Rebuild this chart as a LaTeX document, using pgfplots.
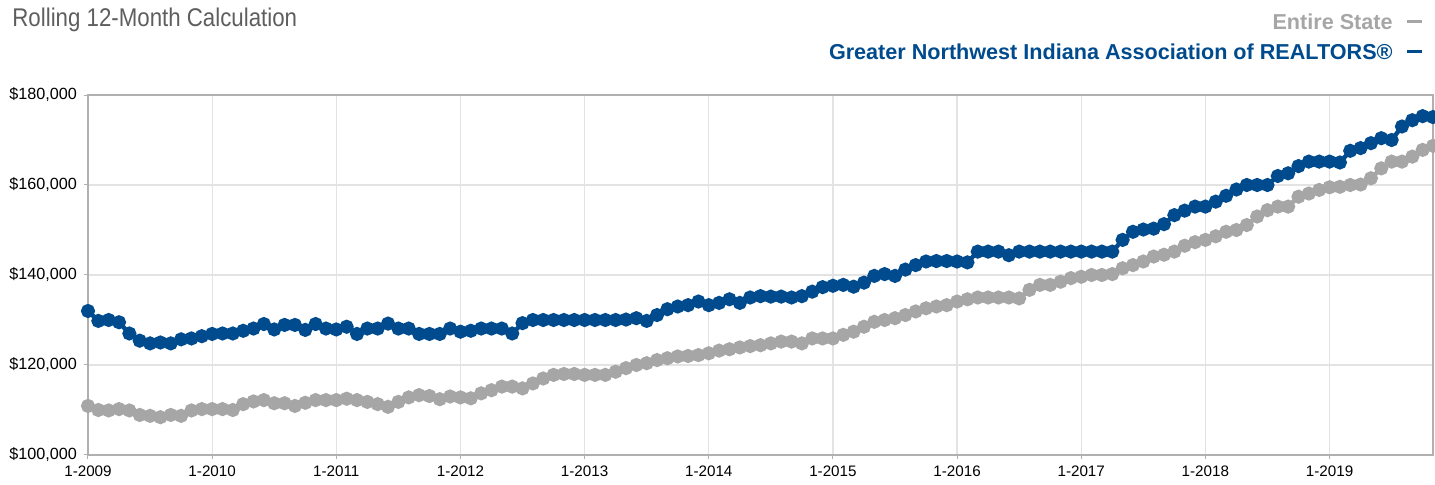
\documentclass[border=0pt]{standalone}
\usepackage{pgfplots}
\pgfplotsset{compat=1.18}
\usepackage{pgfplotstable}
\usepackage{fontspec}
\setmainfont{Liberation Sans}
\newfontfamily\condfont{Liberation Sans}[FakeStretch=0.87]
\definecolor{gnblue}{HTML}{004B8D}
\definecolor{stgray}{HTML}{A6A6A6}
\definecolor{titlegray}{HTML}{5E5E5E}
\definecolor{gridgray}{HTML}{E3E3E3}
\definecolor{axisgray}{HTML}{B0B0B0}

\pgfplotstableread{
m gn st
0 132.0 110.9
1 129.8 110.0
2 130.0 109.9
3 129.5 110.2
4 127.0 109.9
5 125.4 108.9
6 124.8 108.7
7 125.0 108.4
8 124.8 108.9
9 125.7 108.7
10 125.9 109.9
11 126.4 110.2
12 126.9 110.2
13 127.0 110.2
14 127.0 110.0
15 127.6 111.3
16 128.1 111.9
17 129.1 112.2
18 127.9 111.5
19 128.9 111.5
20 128.9 110.9
21 127.8 111.6
22 129.1 112.2
23 128.1 112.2
24 127.9 112.2
25 128.5 112.5
26 126.9 112.2
27 128.1 111.8
28 128.1 111.3
29 129.2 110.7
30 128.1 111.8
31 128.1 112.8
32 126.9 113.3
33 126.9 113.1
34 126.9 112.4
35 128.1 113.0
36 127.4 112.8
37 127.6 112.6
38 128.1 113.7
39 128.1 114.4
40 128.1 115.2
41 127.0 115.2
42 129.3 114.8
43 130.0 115.9
44 130.0 117.0
45 130.0 117.8
46 130.0 118.0
47 130.0 118.0
48 130.0 117.8
49 130.0 117.8
50 130.0 117.8
51 130.0 118.5
52 130.1 119.3
53 130.4 120.0
54 129.8 120.4
55 131.1 121.1
56 132.4 121.5
57 133.0 121.9
58 133.3 122.0
59 134.1 122.2
60 133.3 122.6
61 133.8 123.2
62 134.6 123.5
63 133.8 123.9
64 135.0 124.2
65 135.3 124.4
66 135.2 124.8
67 135.2 125.2
68 135.0 125.2
69 135.3 124.8
70 136.3 125.9
71 137.3 125.9
72 137.6 125.9
73 137.8 126.7
74 137.4 127.4
75 138.3 128.5
76 139.8 129.6
77 140.2 130.0
78 139.8 130.4
79 141.2 131.1
80 142.2 131.9
81 143.0 132.6
82 143.1 133.0
83 143.1 133.3
84 143.0 134.1
85 142.8 134.6
86 145.2 135.0
87 145.2 135.0
88 145.2 135.0
89 144.4 135.0
90 145.2 134.8
91 145.2 136.7
92 145.2 137.8
93 145.2 137.8
94 145.2 138.5
95 145.2 139.3
96 145.2 139.6
97 145.2 140.0
98 145.2 140.0
99 145.2 140.2
100 147.8 141.5
101 149.6 142.2
102 150.1 143.0
103 150.3 144.1
104 151.3 144.5
105 153.3 145.2
106 154.3 146.5
107 155.2 147.3
108 155.2 147.8
109 156.3 148.6
110 157.6 149.6
111 159.0 150.0
112 160.0 151.1
113 160.0 153.0
114 160.0 154.4
115 162.0 155.2
116 162.6 155.2
117 164.2 157.4
118 165.2 158.1
119 165.2 158.9
120 165.2 159.5
121 165.0 159.6
122 167.6 160.0
123 168.2 160.1
124 169.3 161.5
125 170.4 163.7
126 170.0 165.2
127 173.0 165.2
128 174.4 166.3
129 175.3 167.8
130 175.1 168.7
}\data

\begin{document}
\begin{tikzpicture}
\useasboundingbox (-44pt,-15pt) rectangle (673.5pt,227.5pt);
\begin{axis}[
  at={(0,0)}, anchor=south west,
  scale only axis,
  width=672.5pt, height=180pt,
  xmin=0, xmax=130, ymin=100, ymax=180,
  xtick={0,12,...,120},
  xticklabels={1-2009,1-2010,1-2011,1-2012,1-2013,1-2014,1-2015,1-2016,1-2017,1-2018,1-2019},
  ytick={100,120,140,160,180},
  yticklabels={{\$100,000},{\$120,000},{\$140,000},{\$160,000},{\$180,000}},
  grid=major,
  major grid style={gridgray, line width=0.6pt},
  axis line style={axisgray, line width=0.7pt},
  tick style={axisgray, line width=0.5pt},
  major tick length=2pt,
  tick align=outside,
  xtick pos=bottom, ytick pos=left,
  xticklabel style={font=\fontsize{7.6}{8}\selectfont, text=black},
  yticklabel style={font=\fontsize{8.1}{9}\selectfont, text=black},
  clip=false,
]
\addplot[stgray, line width=2.2pt, mark=*, mark size=2.4pt, mark options={fill=stgray, draw=stgray}] table[x=m, y=st] {\data};
\addplot[gnblue, line width=2.2pt, mark=*, mark size=2.4pt, mark options={fill=gnblue, draw=gnblue}] table[x=m, y=gn] {\data};
\end{axis}
\node[anchor=west, text=titlegray, font=\condfont\fontsize{12.8}{14}\selectfont, inner sep=0pt] at (-38pt,217.5pt) {Rolling 12-Month Calculation};
\node[anchor=east, text=stgray, font=\bfseries\fontsize{10.8}{12}\selectfont, inner sep=0pt] at (667pt,216.5pt) {Entire State\hspace{7pt}\rule[0.33em]{7.5pt}{1.2pt}};
\node[anchor=east, text=gnblue, font=\bfseries\fontsize{10.8}{12}\selectfont, inner sep=0pt] at (667pt,201.5pt) {Greater Northwest Indiana Association of REALTORS®\hspace{7pt}\rule[0.33em]{7.5pt}{1.2pt}};
\end{tikzpicture}
\end{document}
